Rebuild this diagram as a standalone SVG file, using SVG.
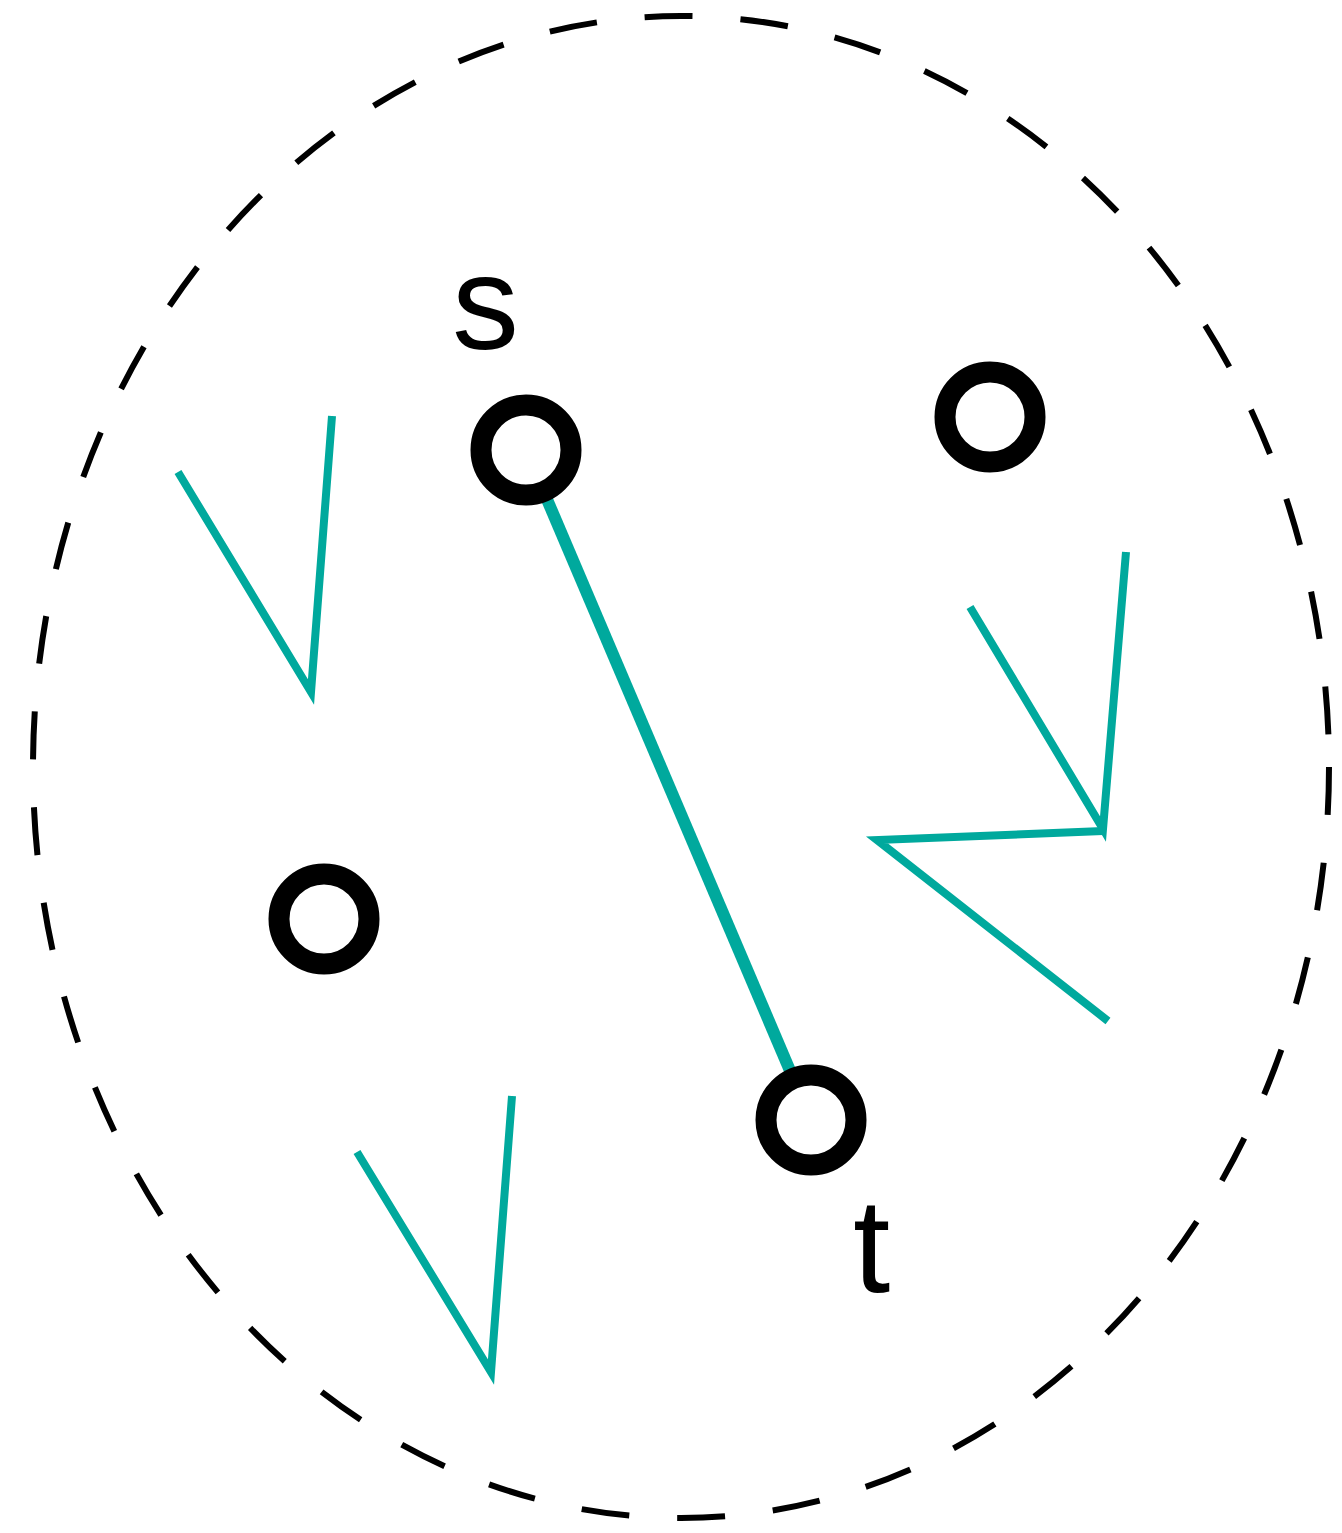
<svg xmlns="http://www.w3.org/2000/svg" width="1342" height="1533" viewBox="0 0 1342 1533">
<style>
.v{fill:none;stroke:#00A99D;stroke-width:8;stroke-linejoin:miter;stroke-miterlimit:10}
.node{fill:#fff;stroke:#000;stroke-width:21}
.lbl{font-family:"Liberation Sans",Arial,sans-serif;font-size:134px;fill:#000}
</style>
<rect width="1342" height="1533" fill="#fff"/>
<ellipse id="region" cx="681" cy="767" rx="648" ry="751" fill="none" stroke="#000" stroke-width="6" stroke-dasharray="48 48"/>
<g id="connectors">
<polyline class="v" points="178,472 311,692 332,416"/>
<polyline class="v" points="357,1152 491,1372 512,1096"/>
<polyline class="v" points="970,607 1103,829 1126,552"/>
<polyline class="v" points="1103,831 877,840 1108,1021"/>
<line x1="526" y1="450" x2="811" y2="1120" stroke="#00A99D" stroke-width="12"/>
</g>
<g id="node-s"><circle class="node" cx="526" cy="450" r="45"/><text class="lbl" x="452" y="349">s</text></g>
<g id="node-t"><circle class="node" cx="811" cy="1120" r="45"/><text class="lbl" x="853" y="1292">t</text></g>
<g id="node-a"><circle class="node" cx="990" cy="417" r="45"/></g>
<g id="node-b"><circle class="node" cx="324" cy="919" r="45"/></g>
</svg>
